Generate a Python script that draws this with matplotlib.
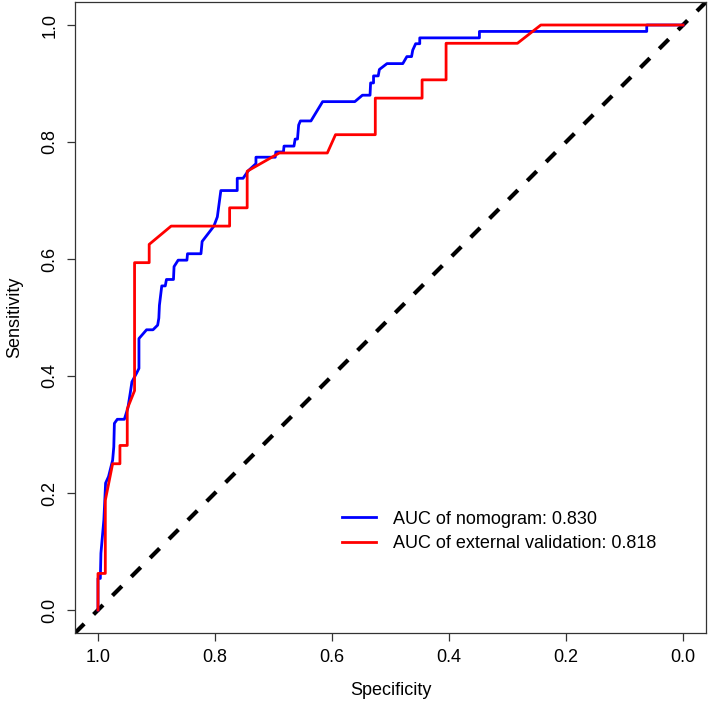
import numpy as np
import matplotlib
matplotlib.use('Agg')
import matplotlib.pyplot as plt

plt.rcParams['font.family'] = ['Liberation Sans', 'DejaVu Sans']

# nomogram ROC (specificity, sensitivity)
nomo_spec = [1.0, 1.0, 0.996, 0.995, 0.990, 0.987, 0.982, 0.975, 0.973, 0.972,
             0.967, 0.955, 0.949, 0.945, 0.942, 0.934, 0.930, 0.930, 0.917, 0.906,
             0.898, 0.896, 0.895, 0.891, 0.885, 0.883, 0.871, 0.870, 0.863, 0.848,
             0.847, 0.824, 0.822, 0.802, 0.796, 0.790, 0.762, 0.762, 0.752, 0.743,
             0.730, 0.730, 0.697, 0.696, 0.683, 0.682, 0.665, 0.663, 0.659, 0.657,
             0.654, 0.636, 0.616, 0.561, 0.548, 0.535, 0.534, 0.529, 0.529, 0.521,
             0.519, 0.506, 0.479, 0.472, 0.464, 0.462, 0.457, 0.450, 0.450, 0.348,
             0.348, 0.062, 0.062, 0.0]
nomo_sens = [0.0, 0.054, 0.054, 0.097, 0.154, 0.217, 0.228, 0.256, 0.279, 0.319,
             0.326, 0.326, 0.345, 0.370, 0.390, 0.405, 0.413, 0.464, 0.479, 0.479,
             0.487, 0.499, 0.521, 0.554, 0.554, 0.565, 0.565, 0.587, 0.598, 0.598,
             0.609, 0.609, 0.630, 0.656, 0.672, 0.717, 0.717, 0.738, 0.738, 0.751,
             0.763, 0.774, 0.774, 0.783, 0.783, 0.793, 0.793, 0.805, 0.805, 0.829,
             0.836, 0.836, 0.869, 0.869, 0.880, 0.880, 0.901, 0.901, 0.913, 0.913,
             0.924, 0.934, 0.934, 0.946, 0.946, 0.957, 0.968, 0.968, 0.978, 0.978,
             0.989, 0.989, 1.0, 1.0]

# external validation ROC
ext_spec = [1.0, 1.0, 0.9875, 0.9875, 0.975, 0.9625, 0.9625, 0.95, 0.95, 0.9375,
            0.9375, 0.9125, 0.9125, 0.875, 0.775, 0.775, 0.745, 0.745, 0.69, 0.608,
            0.594, 0.526, 0.526, 0.446, 0.446, 0.405, 0.405, 0.283, 0.243, 0.0]
ext_sens = [0.0, 0.0625, 0.0625, 0.1875, 0.25, 0.25, 0.28125, 0.28125, 0.34375, 0.375,
            0.59375, 0.59375, 0.625, 0.65625, 0.65625, 0.6875, 0.6875, 0.75, 0.78125, 0.78125,
            0.8125, 0.8125, 0.875, 0.875, 0.90625, 0.90625, 0.96875, 0.96875, 1.0, 1.0]

labels = ['AUC of nomogram: 0.830', 'AUC of external validation: 0.818']
ticks = [1.0, 0.8, 0.6, 0.4, 0.2, 0.0]

W, H = 709, 712
fig = plt.figure(figsize=(W / 100, H / 100), dpi=100)
ax = fig.add_axes([74.6 / W, (H - 633.4) / H, (706.4 - 74.6) / W, (633.4 - 1.6) / H])

ax.axline((1, 0), (0, 1), color='black', lw=3, dashes=(3.2, 3.2), zorder=1)
ax.plot(nomo_spec, nomo_sens, color='#0000ff', lw=2, label=labels[0], zorder=3)
ax.plot(ext_spec, ext_sens, color='#ff0000', lw=2, label=labels[1], zorder=4)

ax.set_xlim(1.04, -0.04)
ax.set_ylim(-0.04, 1.04)
ax.set_xticks(ticks)
ax.set_yticks(ticks)
ax.set_xticklabels(['%.1f' % t for t in ticks])
ax.set_yticklabels(['%.1f' % t for t in ticks], rotation=90, va='center')
ax.tick_params(direction='out', length=5.5, width=0.9, color='#333333',
               labelsize=13, pad=6)
for s in ax.spines.values():
    s.set_color('#333333')
    s.set_linewidth(0.9)

ax.set_xlabel('Specificity', fontsize=13, labelpad=11)
ax.set_ylabel('Sensitivity', fontsize=13, labelpad=13)

ax.legend(loc='lower left', bbox_to_anchor=(0.583, 0.099), bbox_transform=ax.transData,
          frameon=False, fontsize=13, handlelength=1.9, handletextpad=0.9,
          labelspacing=0.42, borderpad=0, borderaxespad=0)

fig.savefig('out.png', dpi=100)
